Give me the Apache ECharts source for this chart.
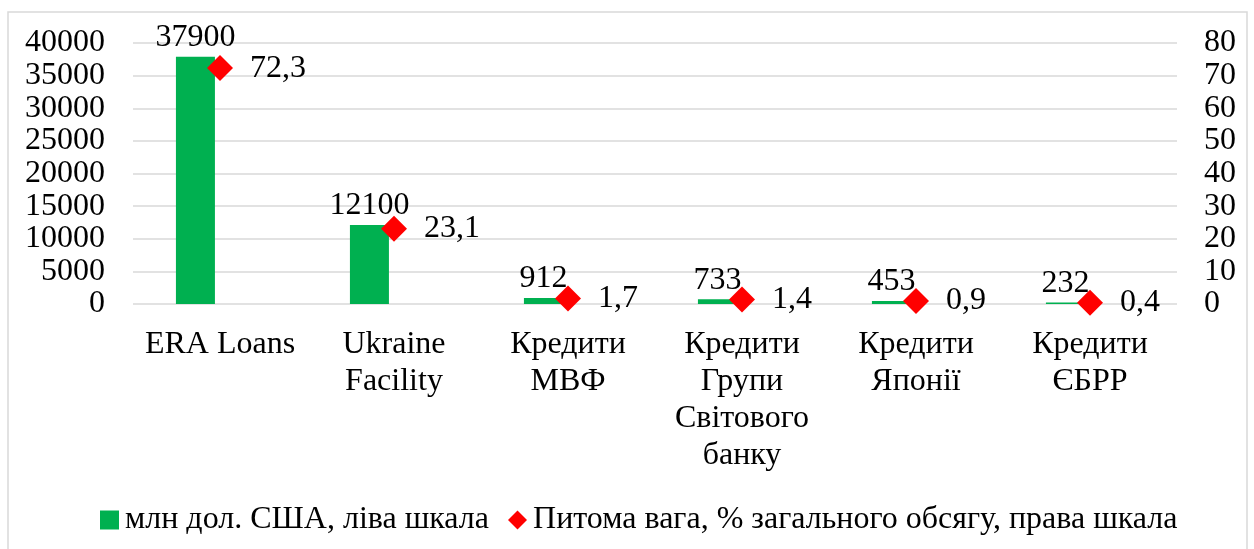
<!DOCTYPE html>
<html>
<head>
<meta charset="utf-8">
<script src="https://cdn.jsdelivr.net/npm/echarts@6/dist/echarts.min.js"></script>
<style>html,body{margin:0;padding:0;background:#fff}#c{width:1254px;height:549px}</style>
</head>
<body>
<div id="c"></div>
<script>
const categories = ['ERA Loans', 'Ukraine\nFacility', 'Кредити\nМВФ', 'Кредити\nГрупи\nСвітового\nбанку', 'Кредити\nЯпонії', 'Кредити\nЄБРР'];
const amounts = [37900, 12100, 912, 733, 453, 232];
const shares = [72.3, 23.1, 1.7, 1.4, 0.9, 0.4];
const leftTicks = {min: 0, max: 40000, interval: 5000};
const rightTicks = {min: 0, max: 80, interval: 10};
const seriesNames = ['млн дол. США, ліва шкала', 'Питома вага, % загального обсягу, права шкала'];

const FONT = "'Liberation Serif', 'Times New Roman', serif";
const FS = 32;
const chart = echarts.init(document.getElementById('c'), null, {renderer: 'canvas'});
chart.setOption({
  animation: false,
  backgroundColor: '#fff',
  textStyle: {fontFamily: FONT, color: '#000'},
  graphic: [{
    type: 'rect', shape: {x: 8, y: 12, width: 1239, height: 560},
    style: {fill: 'none', stroke: '#d9d9d9', lineWidth: 1.5}, silent: true
  }],
  grid: {left: 133, right: 77, top: 43, bottom: 245},
  legend: {
    left: 95, top: 499,
    itemWidth: 19, itemHeight: 19, itemGap: 19,
    data: [{name: seriesNames[0], icon: 'rect'}, {name: seriesNames[1], icon: 'diamond'}],
    textStyle: {fontFamily: FONT, fontSize: FS, color: '#000', padding: [0, 0, 0, 1]}
  },
  xAxis: {
    type: 'category', data: categories,
    axisLine: {show: false}, axisTick: {show: false},
    axisLabel: {interval: 0, fontFamily: FONT, fontSize: FS, color: '#000', lineHeight: 37, margin: 22}
  },
  yAxis: [{
    type: 'value', min: leftTicks.min, max: leftTicks.max, interval: leftTicks.interval,
    axisLine: {show: false}, axisTick: {show: false},
    splitLine: {lineStyle: {color: '#d9d9d9', width: 1.5}},
    axisLabel: {fontFamily: FONT, fontSize: FS, color: '#000', margin: 28, formatter: v => String(v)}
  }, {
    type: 'value', min: rightTicks.min, max: rightTicks.max, interval: rightTicks.interval,
    axisLine: {show: false}, axisTick: {show: false}, splitLine: {show: false},
    axisLabel: {fontFamily: FONT, fontSize: FS, color: '#000', margin: 27, formatter: v => String(v)}
  }],
  series: [{
    name: seriesNames[0], type: 'bar', data: amounts, barWidth: 39, barGap: '26%',
    itemStyle: {color: '#00b050'},
    label: {show: true, position: 'top', distance: 3, fontFamily: FONT, fontSize: FS, color: '#000'}
  }, {
    name: 'spacer', type: 'bar', data: amounts.map(() => '-'), barWidth: 39,
    itemStyle: {color: 'transparent'}, silent: true
  }, {
    name: seriesNames[1], type: 'scatter', yAxisIndex: 1, data: shares,
    symbol: 'diamond', symbolSize: 26, itemStyle: {color: '#ff0000', opacity: 1},
    label: {show: true, position: 'right', distance: 17, fontFamily: FONT, fontSize: FS, color: '#000',
      formatter: p => String(p.value).replace('.', ',')}
  }]
});
</script>
</body>
</html>
